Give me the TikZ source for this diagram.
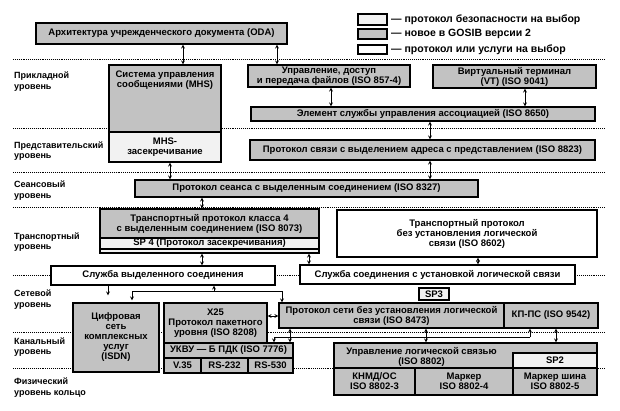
\documentclass[tikz,border=0pt]{standalone}
\usepackage{fontspec}
\setmainfont{Liberation Sans}
\usetikzlibrary{arrows}
\definecolor{gosib}{gray}{0.76}
\definecolor{secfill}{gray}{0.95}
\tikzstyle{blk} = [draw, line width=1.1pt, inner sep=0pt, align=center, font=\bfseries\fontsize{9.5}{10}\selectfont]
\tikzstyle{newbox} = [blk, fill=gosib]
\tikzstyle{secbox} = [blk, fill=secfill]
\tikzstyle{optbox} = [blk, fill=white]
\tikzstyle{layer} = [anchor=west, align=left, inner sep=0pt, font=\bfseries\fontsize{9}{10.5}\selectfont]
\tikzstyle{legend} = [anchor=west, inner sep=0pt, font=\bfseries\fontsize{10.5}{11}\selectfont]
\tikzstyle{sep} = [densely dotted, line width=0.9pt]
\tikzstyle{dbl} = [<->, >=stealth, line width=0.8pt]
\tikzstyle{one} = [->, >=stealth, line width=0.8pt]

\begin{document}
\begin{tikzpicture}[x=1pt, y=-1pt]
\useasboundingbox (0,0) rectangle (620,411);

% layer borders
\foreach \y in {59,128.5,172,207,275,332,368}
    \draw[sep] (13,\y) -- (605,\y);

\node[layer] (lapp) at (14,81.5) {Прикладной\\уровень};
\node[layer] (lpres) at (14,151) {Представительский\\уровень};
\node[layer] (lsess) at (14,190.5) {Сеансовый\\уровень};
\node[layer] (ltrans) at (14,242) {Транспортный\\уровень};
\node[layer] (lnet) at (14,299.5) {Сетевой\\уровень};
\node[layer] (llink) at (14,347) {Канальный\\уровень};
\node[layer] (lphys) at (14,387.5) {Физический\\уровень кольцо};

% legend
\node[secbox, minimum width=29, minimum height=11] (lg1) at (372.5,19.5) {};
\node[newbox, minimum width=29, minimum height=10] (lg2) at (372.5,34) {};
\node[optbox, minimum width=29, minimum height=9] (lg3) at (372.5,49.5) {};
\node[legend] (lgt1) at (391,19.5) {— протокол безопасности на выбор};
\node[legend] (lgt2) at (391,34) {— новое в GOSIB версии 2};
\node[legend] (lgt3) at (391,49.5) {— протокол или услуги на выбор};

\node[newbox, minimum width=251, minimum height=21] (oda) at (161.5,33.5) {Архитектура учрежденческого документа (ODA)};

% application
\node[newbox, minimum width=112, minimum height=67,
    label={[anchor=north, yshift=-3pt, align=center, font=\bfseries\fontsize{9.5}{9.5}\selectfont]north:Система управления\\сообщениями (MHS)}] (mhs) at (165,98.5) {};
\node[secbox, minimum width=112, minimum height=30] (mhssec) at (165,147) {MHS-\\засекречивание};
\node[newbox, minimum width=162, minimum height=22] (ftam) at (329,76) {Управление, доступ\\и передача файлов (ISO 857-4)};
\node[newbox, minimum width=163, minimum height=23] (vt) at (514.5,76.5) {Виртуальный терминал\\(VT) (ISO 9041)};
\node[newbox, minimum width=344, minimum height=14] (acse) at (423,114) {Элемент службы управления ассоциацией (ISO 8650)};

% presentation, session
\node[newbox, minimum width=345, minimum height=20] (pres) at (422.5,150) {Протокол связи с выделением адреса с представлением (ISO 8823)};
\node[newbox, minimum width=343, minimum height=17] (sess) at (306.5,188.5) {Протокол сеанса с выделенным соединением (ISO 8327)};

% transport
\node[newbox, minimum width=219, minimum height=29] (tp4) at (209.5,223.5) {Транспортный протокол класса 4\\с выделенным соединением (ISO 8073)};
\node[secbox, minimum width=219, minimum height=11] (sp4) at (209.5,243.5) {SP 4 (Протокол засекречивания)};
\node[secbox, minimum width=219, minimum height=4] (tpbase) at (209.5,251) {};
\node[optbox, minimum width=260, minimum height=47] (tpcl) at (467,233.5) {Транспортный протокол\\без установления логической\\связи (ISO 8602)};

\node[optbox, minimum width=224, minimum height=19] (svcco) at (163,275.5) {Служба выделенного соединения};
\node[optbox, minimum width=275, minimum height=19] (svccl) at (437.5,274.5) {Служба соединения с установкой логической связи};

% network, link, physical
\node[newbox, minimum width=86, minimum height=69] (isdn) at (116,337.5) {Цифровая\\сеть\\комплексных\\услуг\\(ISDN)};
\node[newbox, minimum width=103, minimum height=40] (x25) at (215.5,323) {X25\\Протокол пакетного\\уровня (ISO 8208)};
\node[newbox, minimum width=129, minimum height=15] (lapb) at (228.5,350.5) {УКВУ — Б ПДК (ISO 7776)};
\node[newbox, minimum width=37, minimum height=15] (v35) at (182.5,365.5) {V.35};
\node[newbox, minimum width=47, minimum height=15] (rs232) at (224.5,365.5) {RS-232};
\node[newbox, minimum width=45, minimum height=15] (rs530) at (270.5,365.5) {RS-530};
\node[newbox, minimum width=225, minimum height=25] (clnp) at (391.5,315.5) {Протокол сети без установления логической\\связи (ISO 8473)};
\node[newbox, minimum width=94, minimum height=25] (esis) at (551,315.5) {КП-ПС (ISO 9542)};
\node[secbox, minimum width=30, minimum height=12] (sp3) at (434,294) {SP3};
\node[newbox, minimum width=263, minimum height=25,
    label={[anchor=north, xshift=-44pt, yshift=-1pt, align=center, font=\bfseries\fontsize{9.5}{10.5}\selectfont]north:Управление логической связью\\(ISO 8802)}] (llc) at (465.5,355.5) {};
\node[secbox, minimum width=84, minimum height=15] (sp2) at (555,360.5) {SP2};
\node[newbox, minimum width=81, minimum height=27] (csma) at (374.5,381.5) {КНМД/ОС\\ISO 8802-3};
\node[newbox, minimum width=98, minimum height=27] (tbus) at (464,381.5) {Маркер\\ISO 8802-4};
\node[newbox, minimum width=84, minimum height=27] (tring) at (555,381.5) {Маркер шина\\ISO 8802-5};

% connectors
\draw[dbl] (183,0 |- oda.south) -- (183,0 |- mhs.north);
\draw[dbl] (277,0 |- oda.south) -- (277,0 |- ftam.north);
\draw[dbl] (331,0 |- ftam.south) -- (331,0 |- acse.north);
\draw[dbl] (525,0 |- vt.south) -- (525,0 |- acse.north);
\draw[dbl] (430,0 |- acse.south) -- (430,0 |- pres.north);
\draw[dbl] (430,0 |- pres.south) -- (430,0 |- sess.north);
\draw[dbl] (170,0 |- mhssec.south) -- (170,0 |- sess.north);
\draw[dbl] (202,0 |- sess.south) -- (202,0 |- tp4.north);
\draw[dbl] (202,0 |- tpbase.south) -- (202,0 |- svcco.north);
\draw[dbl] (309,0 |- tpbase.south) -- (309,0 |- svccl.north);
\draw[dbl] (478,0 |- tpcl.south) -- (478,0 |- svccl.north);
\draw[one, shorten >=7pt] (108,0 |- svcco.south) -- (108,0 |- isdn.north);
\draw[one] (214,291) -- (214,0 |- svcco.south);
\draw[one, shorten >=2pt] (214,291) -| (132,0 |- isdn.north);
\draw[one] (214,291) -| (282,0 |- clnp.north);
\draw[dbl] (x25.east |- 0,316) -- (clnp.west |- 0,316);
\draw[dbl] (290,0 |- clnp.south) -- (290,0 |- lapb.north);
\draw[one] (530,337) -| (274,0 |- lapb.north);
\draw[one] (530,337) -- (530,0 |- esis.south);
\draw[dbl] (426,0 |- clnp.south) -- (426,0 |- llc.north);
\draw[dbl] (556,0 |- esis.south) -- (556,0 |- llc.north);
\end{tikzpicture}
\end{document}
